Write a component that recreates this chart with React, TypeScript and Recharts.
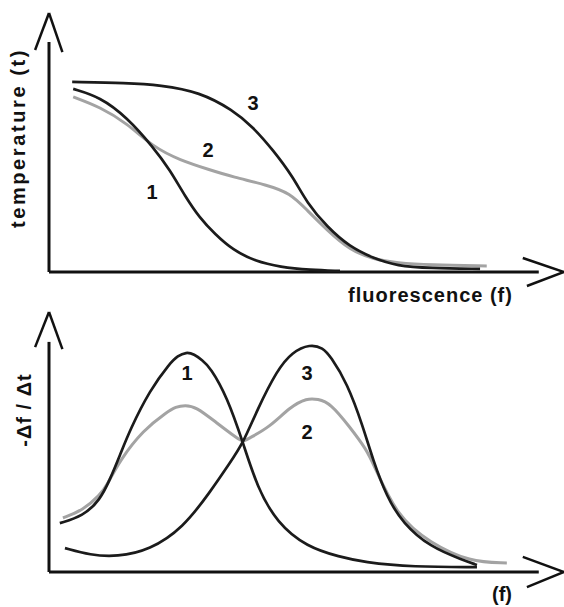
import React from 'react';
import { LineChart, Line, XAxis, YAxis, ReferenceLine, ReferenceDot } from 'recharts';

// ---- top panel: melting curves (units 0..100 on both axes) ----
const meltCurve1 = [
  { x: 4.7, y: 70.7 }, { x: 9.9, y: 67.6 }, { x: 15.1, y: 59.8 }, { x: 20.2, y: 48.3 },
  { x: 23.5, y: 39.4 }, { x: 26.4, y: 29.3 }, { x: 29.3, y: 20.8 }, { x: 32.2, y: 14.7 },
  { x: 35.7, y: 8.5 }, { x: 40.0, y: 4.2 }, { x: 44.9, y: 1.9 }, { x: 50.7, y: 0.8 },
  { x: 56.5, y: 0.4 },
];
const meltCurve2 = [
  { x: 4.7, y: 67.6 }, { x: 9.9, y: 63.7 }, { x: 15.1, y: 57.5 }, { x: 20.2, y: 48.3 },
  { x: 25.4, y: 43.2 }, { x: 31.3, y: 39.4 }, { x: 35.7, y: 36.7 }, { x: 42.3, y: 33.6 },
  { x: 46.8, y: 30.5 }, { x: 50.1, y: 23.9 }, { x: 54.0, y: 16.2 }, { x: 58.4, y: 8.5 },
  { x: 62.9, y: 5.0 }, { x: 67.6, y: 3.5 }, { x: 74.0, y: 2.7 }, { x: 85.0, y: 2.3 },
];
const meltCurve3 = [
  { x: 4.5, y: 73.4 }, { x: 15.1, y: 73.0 }, { x: 21.6, y: 72.2 }, { x: 29.3, y: 69.5 },
  { x: 35.7, y: 62.5 }, { x: 39.6, y: 56.0 }, { x: 43.5, y: 47.1 }, { x: 47.4, y: 36.7 },
  { x: 50.1, y: 26.6 }, { x: 54.0, y: 17.4 }, { x: 58.4, y: 9.7 }, { x: 62.9, y: 5.4 },
  { x: 67.6, y: 2.3 }, { x: 74.0, y: 1.5 }, { x: 83.7, y: 1.2 },
];
const meltLabels = [
  { x: 20.0, y: 30.9, text: '1' },
  { x: 30.9, y: 47.1, text: '2' },
  { x: 39.6, y: 65.3, text: '3' },
];

// ---- bottom panel: derivative curves ----
const derivCurve1 = [
  { x: 2.1, y: 18.8 }, { x: 6.6, y: 21.5 }, { x: 9.9, y: 27.7 }, { x: 11.8, y: 35.4 },
  { x: 13.8, y: 45.0 }, { x: 15.7, y: 54.6 }, { x: 19.6, y: 70.0 }, { x: 23.5, y: 80.4 },
  { x: 25.0, y: 83.1 }, { x: 26.6, y: 84.6 }, { x: 28.2, y: 83.8 }, { x: 29.7, y: 81.5 },
  { x: 31.3, y: 78.8 }, { x: 34.6, y: 67.3 }, { x: 37.7, y: 49.6 }, { x: 40.4, y: 32.7 },
  { x: 44.3, y: 18.8 }, { x: 50.1, y: 9.6 }, { x: 56.5, y: 5.8 }, { x: 61.0, y: 3.8 },
  { x: 70.7, y: 1.9 }, { x: 83.1, y: 1.9 },
];
const derivCurve2 = [
  { x: 2.7, y: 20.8 }, { x: 6.6, y: 23.8 }, { x: 9.9, y: 29.6 }, { x: 11.3, y: 33.5 },
  { x: 13.8, y: 43.1 }, { x: 18.3, y: 54.6 }, { x: 22.9, y: 61.5 }, { x: 24.6, y: 63.5 },
  { x: 26.4, y: 64.2 }, { x: 28.5, y: 63.6 }, { x: 32.6, y: 57.3 }, { x: 36.7, y: 51.2 },
  { x: 37.7, y: 50.0 }, { x: 38.6, y: 51.2 }, { x: 42.9, y: 55.8 }, { x: 46.8, y: 63.5 },
  { x: 50.1, y: 66.9 }, { x: 52.2, y: 66.5 }, { x: 54.6, y: 65.0 }, { x: 58.4, y: 55.8 },
  { x: 61.7, y: 46.9 }, { x: 62.9, y: 41.9 }, { x: 67.6, y: 21.2 }, { x: 74.0, y: 11.2 },
  { x: 81.7, y: 3.8 }, { x: 88.9, y: 3.5 },
];
const derivCurve3 = [
  { x: 3.1, y: 9.2 }, { x: 8.0, y: 6.5 }, { x: 13.2, y: 5.8 }, { x: 19.6, y: 8.5 },
  { x: 26.0, y: 16.9 }, { x: 31.3, y: 30.8 }, { x: 35.1, y: 41.9 }, { x: 37.7, y: 49.6 },
  { x: 40.4, y: 62.3 }, { x: 44.3, y: 77.7 }, { x: 47.2, y: 84.6 }, { x: 50.7, y: 87.7 },
  { x: 53.2, y: 86.2 }, { x: 54.6, y: 83.1 }, { x: 57.9, y: 72.7 }, { x: 61.0, y: 55.8 },
  { x: 62.9, y: 43.1 }, { x: 65.6, y: 28.8 }, { x: 68.7, y: 18.8 }, { x: 74.0, y: 9.6 },
  { x: 80.4, y: 4.6 }, { x: 83.1, y: 2.7 },
];
const derivLabels = [
  { x: 26.8, y: 76.5, text: '1' },
  { x: 50.1, y: 53.8, text: '2' },
  { x: 50.1, y: 76.5, text: '3' },
];

const DARK = '#1b1b1b';
const GRAY = '#a3a3a3';
const AXIS = '#111111';
const FONT = '"Liberation Sans", Arial, Helvetica, sans-serif';

const numLabel = (text: string) => (props: any) => {
  const vb = props.viewBox || {};
  const cx = (vb.x || 0) + (vb.width || 0) / 2;
  const cy = (vb.y || 0) + (vb.height || 0) / 2;
  return (
    <text x={cx} y={cy + 7} textAnchor="middle" fontFamily={FONT} fontWeight="bold" fontSize={20} fill="#111">
      {text}
    </text>
  );
};

const axisArrows = (topWingY: number, yLineTop: number, xWing: number) => [
  <ReferenceLine key="xa" segment={[{ x: 0, y: 0 }, { x: 95.1, y: 0 }]} stroke={AXIS} strokeWidth={3} ifOverflow="visible" />,
  <ReferenceLine key="ya" segment={[{ x: 0, y: 0 }, { x: 0, y: yLineTop }]} stroke={AXIS} strokeWidth={3} ifOverflow="visible" />,
  <ReferenceLine key="xw1" segment={[{ x: 92.0, y: xWing }, { x: 100, y: 0 }]} stroke={AXIS} strokeWidth={2.5} ifOverflow="visible" />,
  <ReferenceLine key="xw2" segment={[{ x: 92.8, y: -xWing }, { x: 100, y: 0 }]} stroke={AXIS} strokeWidth={2.5} ifOverflow="visible" />,
  <ReferenceLine key="yw1" segment={[{ x: -2.7, y: topWingY }, { x: 0, y: 100 }]} stroke={AXIS} strokeWidth={2.5} ifOverflow="visible" />,
  <ReferenceLine key="yw2" segment={[{ x: 2.6, y: topWingY - 0.8 }, { x: 0, y: 100 }]} stroke={AXIS} strokeWidth={2.5} ifOverflow="visible" />,
];

const curve = (data: any[], color: string, width: number) => (
  <Line data={data} dataKey="y" type="basis" stroke={color} strokeWidth={width} dot={false} activeDot={false} isAnimationActive={false} />
);

export default function App() {
  return (
    <div style={{ position: 'absolute', left: 0, top: 0, width: 564, height: 607, background: '#fff', overflow: 'hidden' }}>
      <div style={{ position: 'absolute', left: 0, top: 0 }}>
        <LineChart width={564} height={310} margin={{ top: 13, right: 0, left: 49, bottom: 38 }}>
          <XAxis type="number" dataKey="x" domain={[0, 100]} hide allowDataOverflow />
          <YAxis type="number" dataKey="y" domain={[0, 100]} hide allowDataOverflow />
          {axisArrows(85.7, 88.8, 5.4)}
          {curve(meltCurve2, GRAY, 3)}
          {curve(meltCurve1, DARK, 2.7)}
          {curve(meltCurve3, DARK, 2.7)}
          {meltLabels.map((l) => (
            <ReferenceDot key={'m' + l.text} x={l.x} y={l.y} r={1} fill="none" stroke="none" label={numLabel(l.text)} />
          ))}
        </LineChart>
      </div>
      <div style={{ position: 'absolute', left: 0, top: 310 }}>
        <LineChart width={564} height={297} margin={{ top: 2, right: 0, left: 49, bottom: 35 }}>
          <XAxis type="number" dataKey="x" domain={[0, 100]} hide allowDataOverflow />
          <YAxis type="number" dataKey="y" domain={[0, 100]} hide allowDataOverflow />
          {axisArrows(86.5, 88.5, 5.8)}
          {curve(derivCurve2, GRAY, 3)}
          {curve(derivCurve1, DARK, 2.7)}
          {curve(derivCurve3, DARK, 2.7)}
          {derivLabels.map((l) => (
            <ReferenceDot key={'d' + l.text} x={l.x} y={l.y} r={1} fill="none" stroke="none" label={numLabel(l.text)} />
          ))}
        </LineChart>
      </div>
      <svg width={564} height={607} style={{ position: 'absolute', left: 0, top: 0, pointerEvents: 'none' }}>
        <text x={25} y={138} transform="rotate(-90 25 138)" textAnchor="middle" fontFamily={FONT} fontWeight="bold" fontSize={20} letterSpacing={2.6} fill="#111">
          temperature (t)
        </text>
        <text x={348} y={302} fontFamily={FONT} fontWeight="bold" fontSize={20} letterSpacing={1} fill="#111">
          fluorescence (f)
        </text>
        <text x={31} y={410} transform="rotate(-90 31 410)" textAnchor="middle" fontFamily={FONT} fontWeight="bold" fontSize={20} letterSpacing={1} fill="#111">
          -Δf / Δt
        </text>
        <text x={492} y={601} fontFamily={FONT} fontWeight="bold" fontSize={20} fill="#111">
          (f)
        </text>
      </svg>
    </div>
  );
}
